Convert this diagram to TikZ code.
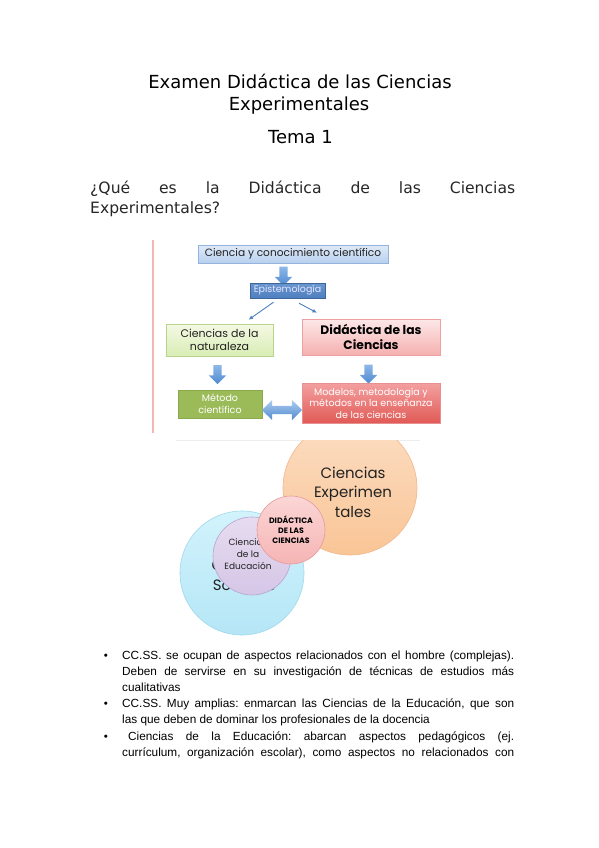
\documentclass[tikz,border=0pt]{standalone}
\usepackage{fontspec}
\setmainfont{DejaVu Sans}
\newfontfamily\gothic{Poppins}
\newfontfamily\arialf{Liberation Sans}
\usetikzlibrary{shapes.arrows,arrows.meta}
\frenchspacing
\definecolor{bxA}{HTML}{DFEAF8}\definecolor{bxB}{HTML}{B8D0EF}\definecolor{bxD}{HTML}{95B3DD}
\definecolor{arA}{HTML}{8DB8E8}\definecolor{arB}{HTML}{4F8AD0}
\definecolor{epiA}{HTML}{6A97CF}\definecolor{epiB}{HTML}{4E7FBF}
\definecolor{natA}{HTML}{F4F9E4}\definecolor{natB}{HTML}{D9EDB4}\definecolor{natD}{HTML}{B9D48A}
\definecolor{didA}{HTML}{FDE8E8}\definecolor{didB}{HTML}{F5B0B0}\definecolor{didD}{HTML}{EEA0A0}
\definecolor{metF}{HTML}{9BBB59}\definecolor{metD}{HTML}{8AA84C}
\definecolor{modA}{HTML}{F4A0A0}\definecolor{modB}{HTML}{E05A56}\definecolor{modD}{HTML}{E89090}
\definecolor{thinar}{HTML}{4F81BD}
\definecolor{pinkline}{HTML}{F5B5B5}
\definecolor{orA}{HTML}{FCDDC2}\definecolor{orB}{HTML}{F9C596}\definecolor{orD}{HTML}{F4B88A}
\definecolor{blA}{HTML}{D2F3FC}\definecolor{blB}{HTML}{B5E6F6}\definecolor{blD}{HTML}{9FD8EC}
\definecolor{puA}{HTML}{E6DCF0}\definecolor{puB}{HTML}{D5C6E6}\definecolor{puD}{HTML}{B9A5D2}
\definecolor{piA}{HTML}{FBD6D6}\definecolor{piB}{HTML}{F6B4B4}\definecolor{piD}{HTML}{E49A9A}
\definecolor{txt}{HTML}{222222}
\tikzset{
  box/.style={draw, inner sep=0pt, align=center, text=txt, font=\gothic\fontsize{9.5}{12}\selectfont},
  downar/.style={single arrow, rotate=-90, draw=none, shading=axis, left color=arA, right color=arB,
     shading angle=0, inner sep=4pt, single arrow head extend=4.5pt, single arrow head indent=0pt, minimum height=19pt},
  thinarrow/.style={draw=thinar, line width=0.9pt, -{Latex[length=4.5pt,width=4pt]}},
  circ/.style={circle, inner sep=0pt, line width=0.6pt},
  ctext/.style={align=center, text=txt, inner sep=0pt},
  bodyline/.style={anchor=base west, inner sep=0pt, font=\arialf\fontsize{11.8}{16.2}\selectfont},
  bullet/.style={anchor=base, inner sep=0pt, font=\arialf\fontsize{11.5}{16.2}\selectfont}
}
\begin{document}
\begin{tikzpicture}[x=1pt,y=-1pt]
\useasboundingbox (0,0) rectangle (599,848);
\fill[white] (0,0) rectangle (599,848);

% title
\node[anchor=base, inner sep=0pt, font=\fontsize{18}{22}\selectfont] (t1) at (300,88.3) {Examen Didáctica de las Ciencias};
\node[anchor=base, inner sep=0pt, font=\fontsize{18}{22}\selectfont] (t2) at (299,110.7) {Experimentales};
\node[anchor=base, inner sep=0pt, font=\fontsize{18}{22}\selectfont] (t3) at (300.5,143.3) {Tema 1};
\node[anchor=base west, inner sep=0pt, font=\fontsize{15.6}{20}\selectfont, text=black!85] (q1) at (90,193.3)
  {\hbox to 425pt{¿Qué\hfill es\hfill la\hfill Didáctica\hfill de\hfill las\hfill Ciencias}};
\node[anchor=base west, inner sep=0pt, font=\fontsize{15.6}{20}\selectfont, text=black!85] (q2) at (90,213.3) {Experimentales?};

% first diagram
\draw[pinkline, line width=2pt] (153,240) -- (153,433);
\node[box, draw=bxD, top color=bxA, bottom color=bxB, minimum width=190pt, minimum height=18pt, font=\gothic\fontsize{10.6}{12}\selectfont] (cc) at (293,254) {Ciencia y conocimiento científico};
\node[downar] (a1) at (283.5,274) {};
\node[box, draw=epiB!80!black, top color=epiA, bottom color=epiB, text=white!90!blue, minimum width=75pt, minimum height=15pt] (epi) at (287.5,290.5) {Epistemología};
\node[box, draw=natD, top color=natA, bottom color=natB, minimum width=107pt, minimum height=32pt, font=\gothic\fontsize{11}{13.5}\selectfont] (nat) at (219.5,340) {Ciencias de la\\naturaleza};
\node[box, draw=didD, top color=didA, bottom color=didB, minimum width=138pt, minimum height=36pt, text=black, font=\gothic\bfseries\fontsize{12.3}{15}\selectfont] (did) at (371,337) {Didáctica de las\\Ciencias};
\draw[thinarrow] ([xshift=-14pt,yshift=-4pt]epi.south) -- ([xshift=29pt,yshift=4pt]nat.north);
\draw[thinarrow] ([xshift=11.5pt,yshift=-5pt]epi.south) -- ([xshift=-54pt,yshift=6pt]did.north);
\node[downar] (a2) at (217.5,372.5) {};
\node[downar] (a3) at (368.5,372) {};
\node[box, draw=metD, fill=metF, text=white, minimum width=84pt, minimum height=28pt, font=\gothic\fontsize{9.5}{11.5}\selectfont] (met) at (220,404) {Método\\científico};
\node[box, draw=modD, top color=modA, bottom color=modB, text=white, minimum width=138pt, minimum height=40pt, font=\gothic\fontsize{9.5}{11.5}\selectfont] (mod) at (371,403) {Modelos, metodología y\\métodos en la enseñanza\\de las ciencias};
\node[double arrow, draw=none, top color=arA!70!white, bottom color=arB, inner sep=4pt, double arrow head extend=6pt, double arrow head indent=0pt, minimum height=40pt] (a4) at (282,410) {};
\draw[black!7, line width=1pt] (176,440) -- (420,440);

% second diagram
\begin{scope}
\clip (0,440.5) rectangle (599,848);
\node[circ, draw=orD, top color=orA, bottom color=orB, minimum size=134pt] (cor) at (350,488) {};
\end{scope}
\node[ctext, font=\gothic\fontsize{15}{19.5}\selectfont] (tor) at (353,492) {Ciencias\\Experimen\\tales};
\node[circ, draw=blD, top color=blA, bottom color=blB, minimum size=124pt] (cbl) at (242,573) {};
\node[ctext, font=\gothic\fontsize{15}{20}\selectfont] (tbl) at (244,575) {Ciencias\\Sociales};
\node[circ, draw=puD, top color=puA, bottom color=puB, minimum size=78pt] (cpu) at (252,556) {};
\node[ctext, font=\gothic\fontsize{9}{12}\selectfont] (tpu) at (248,554) {Ciencias\\de la\\Educación};
\node[circ, draw=piD, top color=piA, bottom color=piB, minimum size=68pt] (cpi) at (291,530) {};
\node[ctext, text=black, font=\gothic\bfseries\fontsize{7.8}{10}\selectfont] (tpi) at (291,530) {DIDÁCTICA\\DE LAS\\CIENCIAS};

% bullets
\node[bullet] (b1) at (106,659) {•};
\node[bodyline] (l1) at (122,659) {\makebox[392pt][s]{CC.SS. se ocupan de aspectos relacionados con el hombre (complejas).}};
\node[bodyline] (l2) at (122,675.2) {\makebox[392pt][s]{Deben de servirse en su investigación de técnicas de estudios más}};
\node[bodyline] (l3) at (122,691.4) {cualitativas};
\node[bullet] (b2) at (106,707.6) {•};
\node[bodyline] (l4) at (122,707.6) {\makebox[392pt][s]{CC.SS. Muy amplias: enmarcan las Ciencias de la Educación, que son}};
\node[bodyline] (l5) at (122,723.8) {las que deben de dominar los profesionales de la docencia};
\node[bullet] (b3) at (106,740) {•};
\node[bodyline] (l6) at (122,740) {\makebox[392pt][s]{\hspace*{6pt}Ciencias de la Educación: abarcan aspectos pedagógicos (ej.}};
\node[bodyline] (l7) at (122,756.2) {\makebox[392pt][s]{currículum, organización escolar), como aspectos no relacionados con}};
\end{tikzpicture}
\end{document}
